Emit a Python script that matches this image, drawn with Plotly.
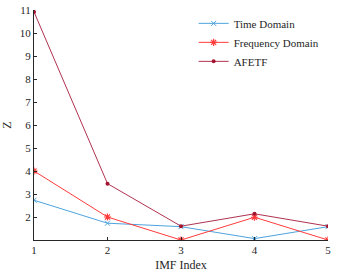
import plotly.graph_objects as go

imf_index = [1, 2, 3, 4, 5]
time_domain = [2.73, 1.73, 1.58, 1.06, 1.58]
freq_domain = [4.0, 2.0, 1.0, 1.99, 1.0]
afetf = [10.92, 3.45, 1.6, 2.14, 1.6]
y_ticks = [2, 3, 4, 5, 6, 7, 8, 9, 10, 11]

fig = go.Figure()
fig.add_trace(go.Scatter(x=imf_index, y=time_domain, name="Time Domain", mode="lines+markers",
                         line=dict(color="#4DA3DE", width=1),
                         marker=dict(symbol="x-thin", size=5, color="#4DA3DE", line=dict(width=1, color="#4DA3DE"))))
fig.add_trace(go.Scatter(x=imf_index, y=freq_domain, name="Frequency Domain", mode="lines+markers",
                         line=dict(color="#FF3B3B", width=1),
                         marker=dict(symbol="asterisk", size=6, color="#FF3B3B", line=dict(width=1.2, color="#FF3B3B"))))
fig.add_trace(go.Scatter(x=imf_index, y=afetf, name="AFETF", mode="lines+markers",
                         line=dict(color="#B0324F", width=1),
                         marker=dict(symbol="circle", size=4, color="#A2142F")))

fig.update_layout(
    width=341, height=280,
    margin=dict(l=34, r=13, t=10, b=40, autoexpand=False),
    plot_bgcolor="white", paper_bgcolor="white",
    font=dict(family="Liberation Serif", size=11, color="#262626"),
    showlegend=True,
    legend=dict(x=0.543, y=1.005, xanchor="left", yanchor="top", bgcolor="rgba(0,0,0,0)",
                font=dict(size=11), tracegroupgap=0, itemwidth=30),
)
fig.update_xaxes(range=[1, 5], tickvals=imf_index, showline=True, linecolor="#262626", linewidth=1,
                 ticks="inside", ticklen=3, tickcolor="#262626", showgrid=False, zeroline=False,
                 automargin=False, ticklabeloverflow="allow",
                 title=dict(text="IMF Index", standoff=5, font=dict(size=12)))
fig.update_yaxes(range=[1, 11.002], tickvals=y_ticks, showline=True, linecolor="#262626", linewidth=1,
                 ticks="inside", ticklen=3, tickcolor="#262626", showgrid=False, zeroline=False,
                 automargin=False, ticklabeloverflow="allow",
                 title=dict(text="Z", standoff=7, font=dict(size=12)))

fig.write_html("out.html", config={"displayModeBar": False},
               post_script="document.body.style.margin='0';")
